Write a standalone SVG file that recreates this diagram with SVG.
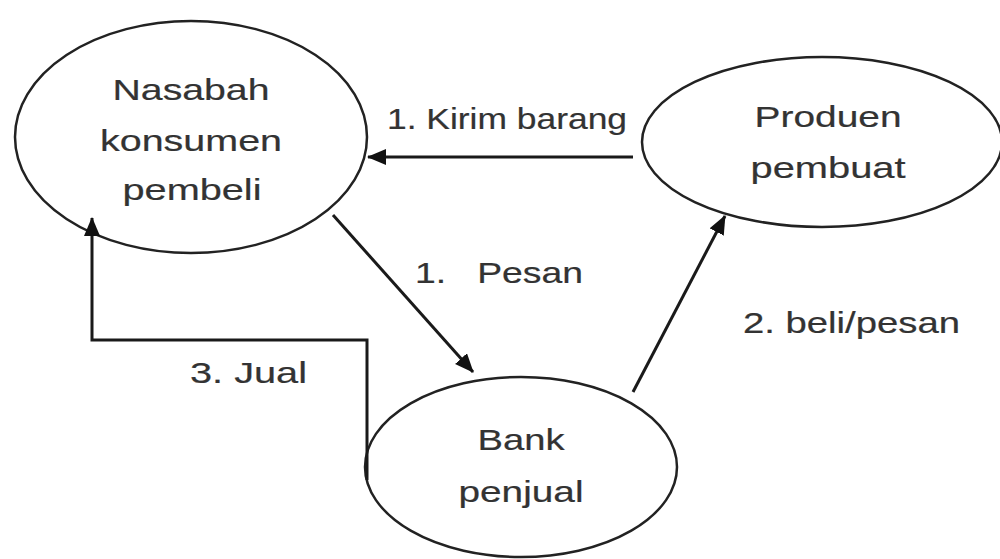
<svg xmlns="http://www.w3.org/2000/svg" width="1000" height="559" viewBox="0 0 1000 559">
  <style>
    .node { fill: #ffffff; stroke: #222222; stroke-width: 2.5; }
    .label { font-family: "Liberation Sans", Arial, sans-serif; font-size: 30px; fill: #333333; stroke: #333333; stroke-width: 0.2; text-anchor: middle; }
    .edge-label { font-family: "Liberation Sans", Arial, sans-serif; font-size: 29px; fill: #333333; stroke: #333333; stroke-width: 0.2; white-space: pre; }
    .edge { fill: none; stroke: #1a1a1a; stroke-width: 3; }
  </style>
  <defs>
    <marker id="arrow" markerUnits="userSpaceOnUse" markerWidth="20" markerHeight="18" refX="18" refY="8" orient="auto">
      <path d="M0,0 L19,8 L0,16 Z" fill="#111111"/>
    </marker>
  </defs>
  <rect width="1000" height="559" fill="#ffffff"/>

  <g id="nasabah">
    <ellipse class="node" cx="191" cy="137" rx="176" ry="116"/>
    <text class="label" transform="translate(191,100) scale(1.25,1)" textLength="125.6" lengthAdjust="spacingAndGlyphs">Nasabah</text>
    <text class="label" transform="translate(191,151) scale(1.25,1)" textLength="145.6" lengthAdjust="spacingAndGlyphs">konsumen</text>
    <text class="label" transform="translate(192,200) scale(1.25,1)" textLength="111.2" lengthAdjust="spacingAndGlyphs">pembeli</text>
  </g>

  <g id="produen">
    <ellipse class="node" cx="822" cy="142" rx="180" ry="85"/>
    <text class="label" transform="translate(828,127) scale(1.25,1)" textLength="117.6" lengthAdjust="spacingAndGlyphs">Produen</text>
    <text class="label" transform="translate(828,178) scale(1.25,1)" textLength="124" lengthAdjust="spacingAndGlyphs">pembuat</text>
  </g>

  <g id="bank">
    <ellipse class="node" cx="521" cy="467" rx="156" ry="90"/>
    <text class="label" transform="translate(521,450) scale(1.25,1)" textLength="69.6" lengthAdjust="spacingAndGlyphs">Bank</text>
    <text class="label" transform="translate(521,502) scale(1.25,1)" textLength="100" lengthAdjust="spacingAndGlyphs">penjual</text>
  </g>

  <g id="connectors">
    <!-- Produen -> Nasabah -->
    <line class="edge" x1="633" y1="157" x2="368" y2="157" marker-end="url(#arrow)"/>
    <!-- Nasabah -> Bank -->
    <line class="edge" x1="333" y1="215" x2="473" y2="372" marker-end="url(#arrow)"/>
    <!-- Bank -> Produen -->
    <line class="edge" x1="633" y1="392" x2="725" y2="216" marker-end="url(#arrow)"/>
    <!-- Bank -> Nasabah (elbow) -->
    <path class="edge" d="M367,480 V340 H92 V218" marker-end="url(#arrow)"/>

    <text class="edge-label" transform="translate(387,129) scale(1.25,1)" textLength="192" lengthAdjust="spacingAndGlyphs">1. Kirim barang</text>
    <text class="edge-label" transform="translate(415,283) scale(1.25,1)" textLength="134.4" lengthAdjust="spacingAndGlyphs">1.   Pesan</text>
    <text class="edge-label" transform="translate(743,333) scale(1.25,1)" textLength="173.6" lengthAdjust="spacingAndGlyphs">2. beli/pesan</text>
    <text class="edge-label" transform="translate(190,383) scale(1.25,1)" textLength="93.6" lengthAdjust="spacingAndGlyphs">3. Jual</text>
  </g>
</svg>
